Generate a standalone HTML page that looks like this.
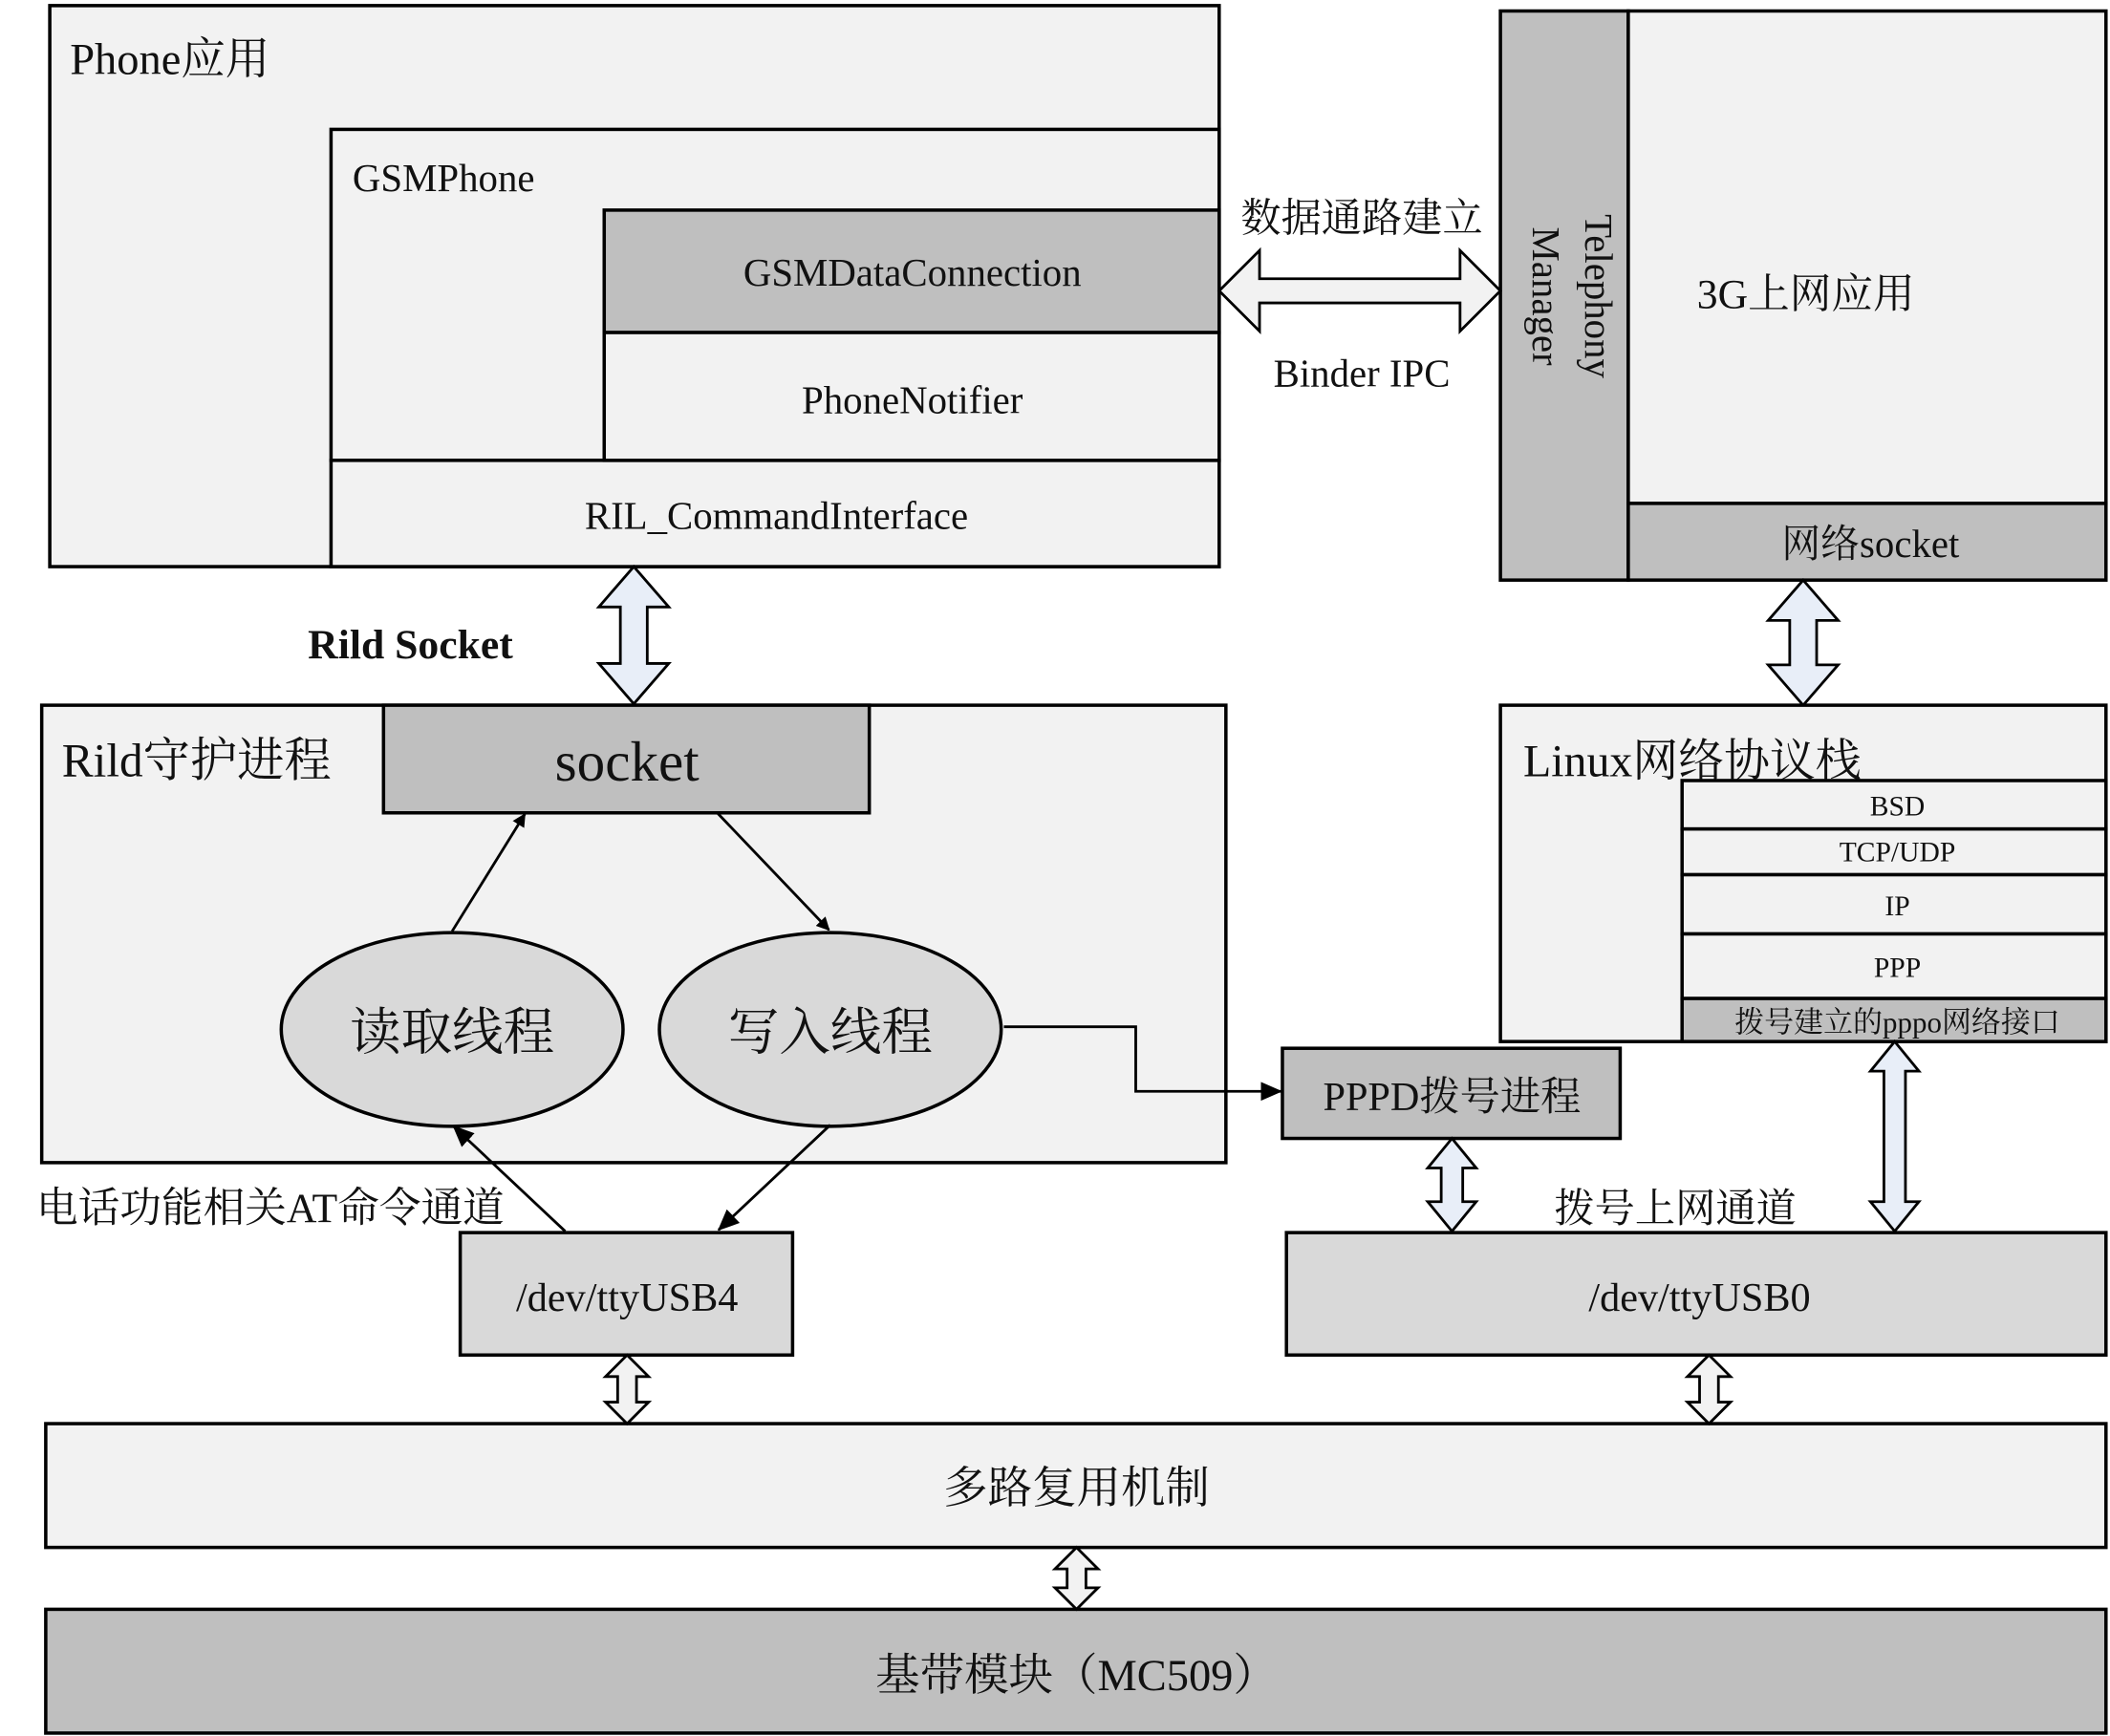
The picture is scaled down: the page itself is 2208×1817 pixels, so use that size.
<!DOCTYPE html>
<html><head><meta charset="utf-8"><style>
html,body{margin:0;padding:0;background:#fff;}
svg{display:block}
text{font-family:"Liberation Serif","Noto Serif CJK SC",serif;fill:#111;}
</style></head><body>
<svg width="2208" height="1817" viewBox="0 0 1568 1290" xmlns="http://www.w3.org/2000/svg">
<defs><marker id="ah" markerWidth="10" markerHeight="10" refX="9" refY="5" orient="auto" markerUnits="userSpaceOnUse" viewBox="0 0 10 10"><path d="M0,0 L10,5 L0,10 z" fill="#000"/></marker>
<marker id="ah2" markerWidth="16" markerHeight="14" refX="15" refY="7" orient="auto" markerUnits="userSpaceOnUse" viewBox="0 0 16 14"><path d="M0,0 L16,7 L0,14 z" fill="#000"/></marker></defs>
<g stroke="#000" stroke-width="2.5">
<rect x="37" y="4" width="869" height="417" fill="#f2f2f2"/>
<rect x="246" y="96" width="660" height="246" fill="#f2f2f2"/>
<rect x="246" y="342" width="660" height="79" fill="#f2f2f2"/>
<rect x="449" y="156" width="457" height="91" fill="#bfbfbf"/>
<rect x="449" y="247" width="457" height="95" fill="#f2f2f2"/>
<rect x="1115" y="8" width="95" height="423" fill="#bfbfbf"/>
<rect x="1210" y="8" width="355" height="366" fill="#f2f2f2"/>
<rect x="1210" y="374" width="355" height="57" fill="#bfbfbf"/>
<polygon points="906,216 936,186 936,207 1085,207 1085,186 1115,216 1085,246 1085,225 936,225 936,246" fill="#f2f2f2" stroke-width="2"/>
<polygon points="471,421 497,451 481,451 481,493 497,493 471,523 445,493 461,493 461,451 445,451" fill="#e8eef8" stroke-width="2"/>
<polygon points="1340,431 1366,461 1350,461 1350,494 1366,494 1340,524 1314,494 1330,494 1330,461 1314,461" fill="#e8eef8" stroke-width="2"/>
<rect x="31" y="524" width="880" height="340" fill="#f2f2f2"/>
<rect x="285" y="524" width="361" height="80" fill="#bfbfbf"/>
<ellipse cx="336" cy="765" rx="127" ry="72" fill="#d9d9d9"/>
<ellipse cx="617" cy="765" rx="127" ry="72" fill="#d9d9d9"/>
<rect x="1115" y="524" width="450" height="250" fill="#f2f2f2"/>
<rect x="1250" y="580" width="315" height="36" fill="#f2f2f2"/>
<rect x="1250" y="616" width="315" height="34" fill="#f2f2f2"/>
<rect x="1250" y="650" width="315" height="44" fill="#f2f2f2"/>
<rect x="1250" y="694" width="315" height="48" fill="#f2f2f2"/>
<rect x="1250" y="742" width="315" height="32" fill="#bfbfbf"/>
<rect x="953" y="779" width="251" height="67" fill="#bfbfbf"/>
<rect x="342" y="916" width="247" height="91" fill="#d9d9d9"/>
<rect x="956" y="916" width="609" height="91" fill="#d9d9d9"/>
<rect x="34" y="1058" width="1531" height="92" fill="#f2f2f2"/>
<rect x="34" y="1196" width="1531" height="92" fill="#bfbfbf"/>
<polygon points="1079,846 1097,868 1087,868 1087,893 1097,893 1079,915 1061,893 1071,893 1071,868 1061,868" fill="#e8eef8" stroke-width="2"/>
<polygon points="1408,774 1426,796 1416,796 1416,893 1426,893 1408,915 1390,893 1400,893 1400,796 1390,796" fill="#e8eef8" stroke-width="2"/>
<polygon points="466,1007 482,1023 473,1023 473,1042 482,1042 466,1058 450,1042 459,1042 459,1023 450,1023" fill="#f2f2f2" stroke-width="2"/>
<polygon points="1270,1007 1286,1023 1277,1023 1277,1042 1286,1042 1270,1058 1254,1042 1263,1042 1263,1023 1254,1023" fill="#f2f2f2" stroke-width="2"/>
<polygon points="800,1150 816,1166 807,1166 807,1180 816,1180 800,1196 784,1180 793,1180 793,1166 784,1166" fill="#f2f2f2" stroke-width="2"/>
<g stroke-width="2" fill="none">
<line x1="336" y1="692" x2="390" y2="605" marker-end="url(#ah)"/>
<line x1="533" y1="604" x2="616" y2="691" marker-end="url(#ah)"/>
<line x1="617" y1="836" x2="534" y2="914" marker-end="url(#ah2)"/>
<line x1="420" y1="915" x2="337" y2="837" marker-end="url(#ah2)"/>
<polyline points="746,763 844,763 844,811 952,811" marker-end="url(#ah2)"/>
</g>
</g>
<text x="52" y="55" font-size="33">Phone应用</text>
<text x="262" y="142" font-size="29">GSMPhone</text>
<text x="678" y="212" font-size="29" text-anchor="middle">GSMDataConnection</text>
<text x="678" y="307" font-size="29" text-anchor="middle">PhoneNotifier</text>
<text x="577" y="393" font-size="29" text-anchor="middle">RIL_CommandInterface</text>
<text x="1012" y="172" font-size="30" text-anchor="middle">数据通路建立</text>
<text x="1012" y="287" font-size="29" text-anchor="middle">Binder IPC</text>
<text transform="translate(1178,220) rotate(90)" font-size="29" text-anchor="middle">Telephony</text>
<text transform="translate(1139,220) rotate(90)" font-size="29" text-anchor="middle">Manager</text>
<text x="1342" y="229" font-size="31" text-anchor="middle">3G上网应用</text>
<text x="1390" y="414" font-size="29" text-anchor="middle">网络socket</text>
<text x="305" y="489" font-size="31" font-weight="bold" text-anchor="middle">Rild Socket</text>
<text x="46" y="577" font-size="35">Rild守护进程</text>
<text x="466" y="580" font-size="42" text-anchor="middle">socket</text>
<text x="336" y="780" font-size="38" text-anchor="middle">读取线程</text>
<text x="617" y="780" font-size="38" text-anchor="middle">写入线程</text>
<text x="1132" y="577" font-size="34">Linux网络协议栈</text>
<text x="1410" y="606" font-size="21" text-anchor="middle">BSD</text>
<text x="1410" y="640" font-size="21" text-anchor="middle">TCP/UDP</text>
<text x="1410" y="680" font-size="21" text-anchor="middle">IP</text>
<text x="1410" y="726" font-size="21" text-anchor="middle">PPP</text>
<text x="1410" y="767" font-size="22" text-anchor="middle">拨号建立的pppo网络接口</text>
<text x="1079" y="825" font-size="30" text-anchor="middle">PPPD拨号进程</text>
<text x="1245" y="908" font-size="30" text-anchor="middle">拨号上网通道</text>
<text x="27" y="908" font-size="31">电话功能相关AT命令通道</text>
<text x="466" y="974" font-size="30" text-anchor="middle">/dev/ttyUSB4</text>
<text x="1263" y="974" font-size="30" text-anchor="middle">/dev/ttyUSB0</text>
<text x="800" y="1117" font-size="33" text-anchor="middle">多路复用机制</text>
<text x="800" y="1256" font-size="33" text-anchor="middle">基带模块（MC509）</text>
</svg>
</body></html>
